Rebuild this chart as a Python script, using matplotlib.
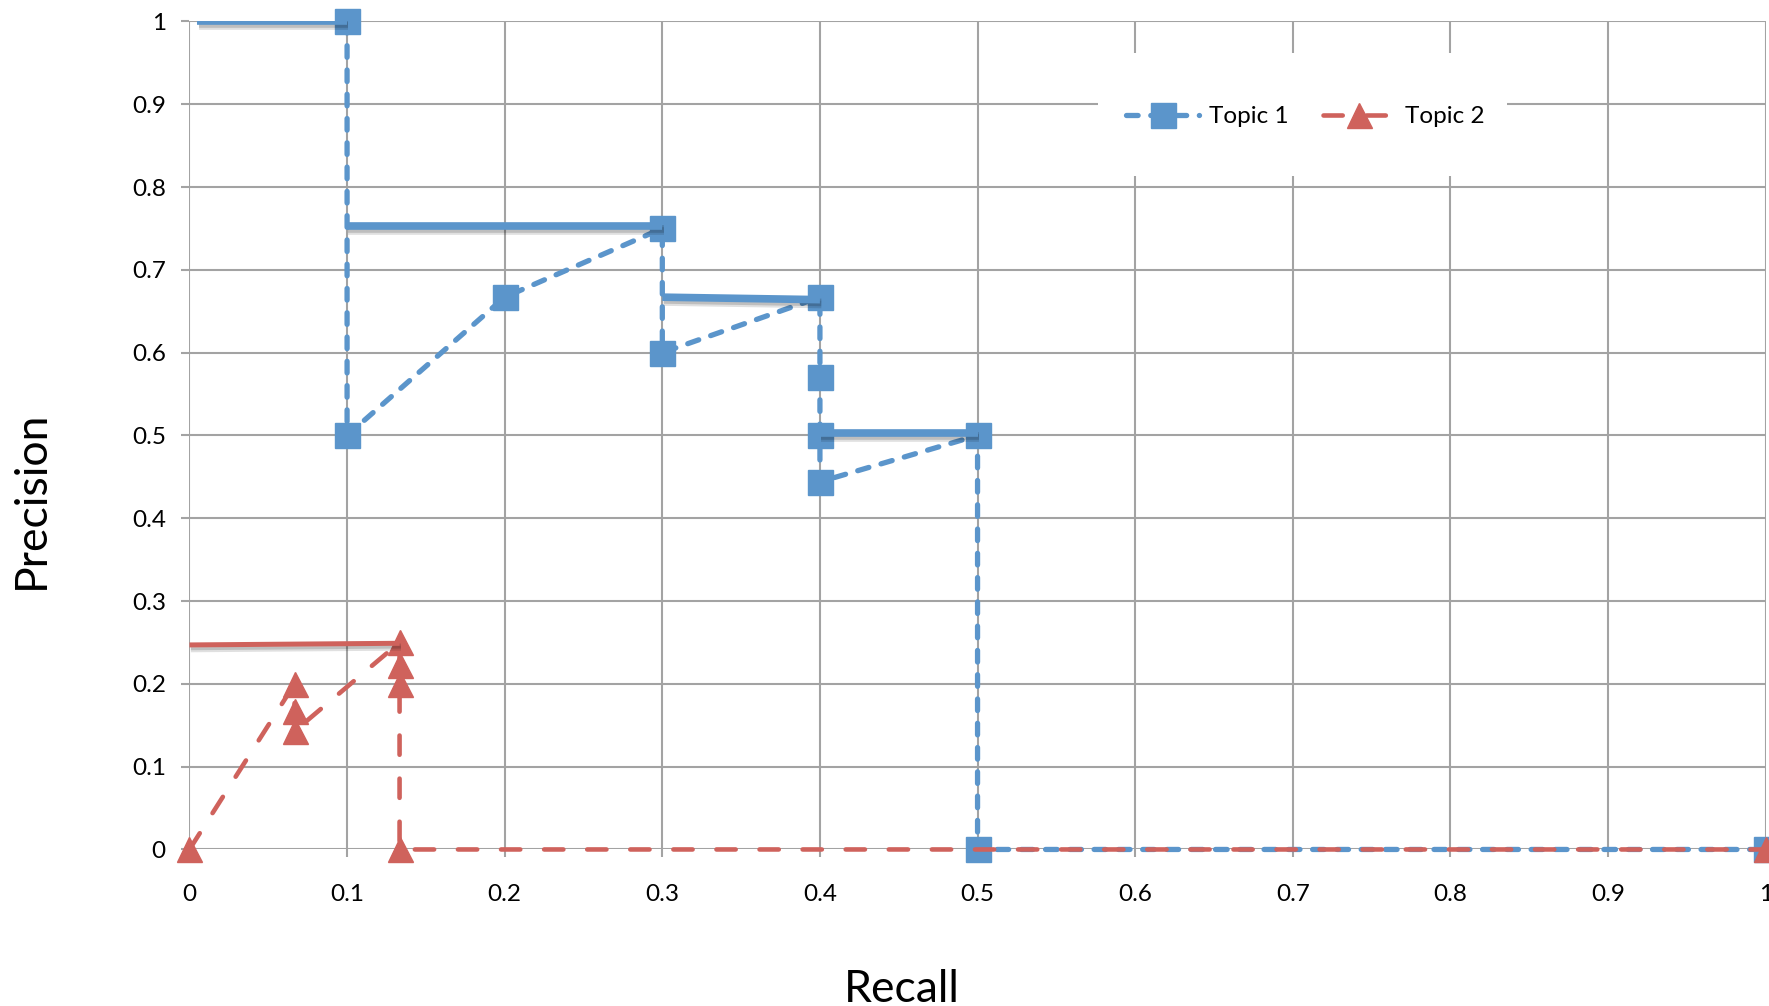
import matplotlib
matplotlib.use("Agg")
import matplotlib.pyplot as plt
import matplotlib.patheffects as pe
from matplotlib.patches import Rectangle
from matplotlib.lines import Line2D

plt.rcParams['font.family'] = ['Lato', 'DejaVu Sans']

# Topic 1: raw precision/recall points (dashed, square markers)
t1_recall = [0.1, 0.1, 0.2, 0.3, 0.3, 0.4, 0.4, 0.4, 0.4, 0.5, 0.5, 1.0]
t1_prec = [1.0, 0.5, 0.667, 0.75, 0.6, 0.667, 0.571, 0.5, 0.444, 0.5, 0.0, 0.0]

# Topic 2: raw points (dashed, triangle markers)
t2_recall = [0.0, 0.0667, 0.0667, 0.0667, 0.1333, 0.1333, 0.1333, 0.1333, 1.0]
t2_prec = [0.0, 0.2, 0.1667, 0.1429, 0.25, 0.2222, 0.2, 0.0, 0.0]

# interpolated precision steps (solid, drawn on top)
t1_steps = [((0.005, 0.1), (1.0, 1.0)),
            ((0.1, 0.3), (0.753, 0.753)),
            ((0.3, 0.4), (0.667, 0.664)),
            ((0.4, 0.5), (0.503, 0.503))]
t2_steps = [((0.0, 0.1333), (0.247, 0.249))]

xticks = [0, 0.1, 0.2, 0.3, 0.4, 0.5, 0.6, 0.7, 0.8, 0.9, 1]
yticks = [0, 0.1, 0.2, 0.3, 0.4, 0.5, 0.6, 0.7, 0.8, 0.9, 1]
tick_labels = ['0', '0.1', '0.2', '0.3', '0.4', '0.5', '0.6', '0.7', '0.8', '0.9', '1']

blue = '#5b95cb'
red = '#cf625c'
grid_c = '#a3a3a3'

fig = plt.figure(figsize=(17.69, 10.06), dpi=100)
ax = fig.add_axes([0.1071, 0.1556, 0.891, 0.8231])
ax.set_xlim(0, 1)
ax.set_ylim(0, 1)
ax.set_axisbelow(True)
ax.grid(True, color=grid_c, lw=1.5)
for s in ax.spines.values():
    s.set_visible(False)
ax.set_xticks(xticks)
ax.set_xticklabels(tick_labels)
ax.set_yticks(yticks)
ax.set_yticklabels(tick_labels)
ax.tick_params(axis='both', colors=grid_c, length=6, width=1.5, labelcolor='black', labelsize=17.5)
ax.tick_params(axis='y', pad=11)
ax.tick_params(axis='x', pad=19)

# white box behind the legend
ax.add_patch(Rectangle((0.6207, 0.8251), 0.2312, 0.1223, transform=fig.transFigure,
                       facecolor='white', edgecolor='none', zorder=1.5))

shadow = [pe.SimpleLineShadow(offset=(1, -3.5), shadow_color='black', alpha=0.12),
          pe.SimpleLineShadow(offset=(1, -2), shadow_color='black', alpha=0.15),
          pe.Normal()]

ax.plot(t1_recall, t1_prec, color=blue, lw=3.8, dashes=(2.2, 2.4), dash_capstyle='round',
        marker='s', ms=18, mec=blue, mfc=blue, zorder=3, clip_on=False)
ax.plot(t2_recall, t2_prec, color=red, lw=3.3, dashes=(4.2, 5.2), dash_capstyle='round',
        marker='^', ms=18, mec=red, mfc=red, zorder=3, clip_on=False)

for xs, ys in t1_steps:
    ax.plot(xs, ys, color=blue, lw=5.5, solid_capstyle='butt', zorder=4, path_effects=shadow)
for xs, ys in t2_steps:
    ax.plot(xs, ys, color=red, lw=3.6, solid_capstyle='butt', zorder=4, path_effects=shadow)

h1 = Line2D([], [], color=blue, lw=3.8, dashes=(2.2, 2.4), dash_capstyle='round',
            marker='s', ms=18, mfc=blue, mec=blue)
h2 = Line2D([], [], color=red, lw=3.3, dashes=(4.2, 5.2), dash_capstyle='round',
            marker='^', ms=18, mfc=red, mec=red)
fig.legend([h1, h2], ['Topic 1', 'Topic 2'], loc='center', bbox_to_anchor=(0.738, 0.884),
           ncol=2, frameon=False, fontsize=17.5, handlelength=3.0, handletextpad=0.4,
           columnspacing=1.4)

fig.text(0.018, 0.503, 'Precision', rotation=90, ha='center', va='center', fontsize=32)
fig.text(0.51, 0.016, 'Recall', ha='center', va='center', fontsize=32)

fig.savefig('out.png', dpi=100)
